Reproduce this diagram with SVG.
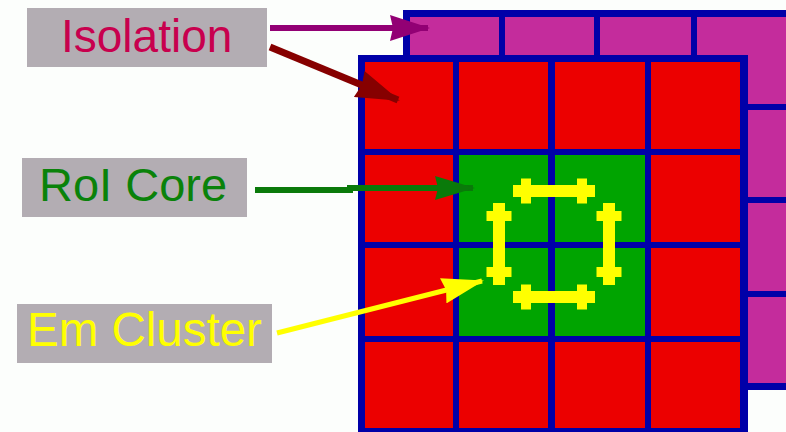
<svg xmlns="http://www.w3.org/2000/svg" width="786" height="432" viewBox="0 0 786 432">
  <style>
    .grid { fill: #0000a8; }
    .label-box { fill: #b3adb3; }
    .label { font-family: "Liberation Sans", Arial, sans-serif; font-size: 46px; }
    .bell { fill: #ffff00; }
  </style>
  <defs>
    <!-- horizontal dumbbell centred on the origin -->
    <g id="dumbbell">
      <rect x="-41" y="-6" width="82" height="12"/>
      <rect x="-33" y="-12.5" width="10" height="25"/>
      <rect x="23" y="-12.5" width="10" height="25"/>
    </g>
    <marker id="head-purple" viewBox="0 0 40 26" refX="38" refY="13" markerUnits="userSpaceOnUse" markerWidth="40" markerHeight="26" orient="auto">
      <path d="M0,0 L40,13 L0,26 L3,13 Z" fill="#920074"/>
    </marker>
    <marker id="head-maroon" viewBox="0 0 44 28" refX="42" refY="14" markerUnits="userSpaceOnUse" markerWidth="44" markerHeight="28" orient="auto">
      <path d="M0,0 L44,14 L0,28 L3,14 Z" fill="#860000"/>
    </marker>
    <marker id="head-green" viewBox="0 0 40 24" refX="38" refY="12" markerUnits="userSpaceOnUse" markerWidth="40" markerHeight="24" orient="auto">
      <path d="M0,0 L40,12 L0,24 L3,12 Z" fill="#0a7a0a"/>
    </marker>
    <marker id="head-yellow" viewBox="0 0 42 26" refX="40" refY="13" markerUnits="userSpaceOnUse" markerWidth="42" markerHeight="26" orient="auto">
      <path d="M0,0 L42,13 L0,26 L3,13 Z" fill="#ffff00"/>
    </marker>
  </defs>

  <rect width="786" height="432" fill="#fcfefc"/>

  <!-- isolation layer (behind) -->
  <g id="isolation-grid">
    <rect x="403" y="10" width="390" height="379" fill="#c42c9c"/>
    <rect class="grid" x="403" y="10" width="7" height="379"/>
    <rect class="grid" x="499" y="10" width="6" height="379"/>
    <rect class="grid" x="594" y="10" width="6" height="379"/>
    <rect class="grid" x="691" y="10" width="6" height="379"/>
    <rect class="grid" x="403" y="10" width="390" height="7"/>
    <rect class="grid" x="403" y="104" width="390" height="6"/>
    <rect class="grid" x="403" y="197" width="390" height="6"/>
    <rect class="grid" x="403" y="291" width="390" height="6"/>
    <rect class="grid" x="403" y="383" width="390" height="7"/>
  </g>

  <!-- front layer with RoI core -->
  <g id="roi-grid">
    <rect x="358" y="55" width="390" height="380" fill="#ec0000"/>
    <rect x="456" y="152" width="192" height="188" fill="#00a400"/>
    <rect class="grid" x="358" y="55" width="7" height="380"/>
    <rect class="grid" x="453" y="55" width="6" height="380"/>
    <rect class="grid" x="548" y="55" width="7" height="380"/>
    <rect class="grid" x="645" y="55" width="6" height="380"/>
    <rect class="grid" x="740" y="55" width="8" height="380"/>
    <rect class="grid" x="358" y="55" width="390" height="7"/>
    <rect class="grid" x="358" y="149" width="390" height="6"/>
    <rect class="grid" x="358" y="242" width="390" height="6"/>
    <rect class="grid" x="358" y="336" width="390" height="6"/>
    <rect class="grid" x="358" y="428" width="390" height="6"/>
  </g>

  <!-- em cluster ring -->
  <g id="em-cluster" class="bell">
    <use href="#dumbbell" transform="translate(554,191)"/>
    <use href="#dumbbell" transform="translate(554,297)"/>
    <use href="#dumbbell" transform="translate(499,244) rotate(90)"/>
    <use href="#dumbbell" transform="translate(609,244) rotate(90)"/>
  </g>

  <g id="label-isolation">
    <rect class="label-box" x="27" y="8" width="240" height="59"/>
    <text class="label" x="61" y="52" fill="#c8004e">Isolation</text>
  </g>
  <g id="label-roi-core">
    <rect class="label-box" x="22" y="158" width="225" height="59"/>
    <text class="label" x="39" y="201" fill="#0a820a" style="font-size:47px">RoI Core</text>
  </g>
  <g id="label-em-cluster">
    <rect class="label-box" x="17" y="304" width="255" height="59"/>
    <text class="label" x="27" y="346" fill="#ffff00" style="font-size:47.5px">Em Cluster</text>
  </g>

  <g id="connectors" fill="none">
    <line x1="270" y1="28" x2="428" y2="28" stroke="#920074" stroke-width="6" marker-end="url(#head-purple)"/>
    <line x1="270" y1="47" x2="398" y2="100" stroke="#860000" stroke-width="7" marker-end="url(#head-maroon)"/>
    <polyline points="255,190 350,190 350,188 473,188" stroke="#0a7a0a" stroke-width="6" marker-end="url(#head-green)"/>
    <line x1="277" y1="333" x2="482" y2="281" stroke="#ffff00" stroke-width="5" marker-end="url(#head-yellow)"/>
  </g>
</svg>
